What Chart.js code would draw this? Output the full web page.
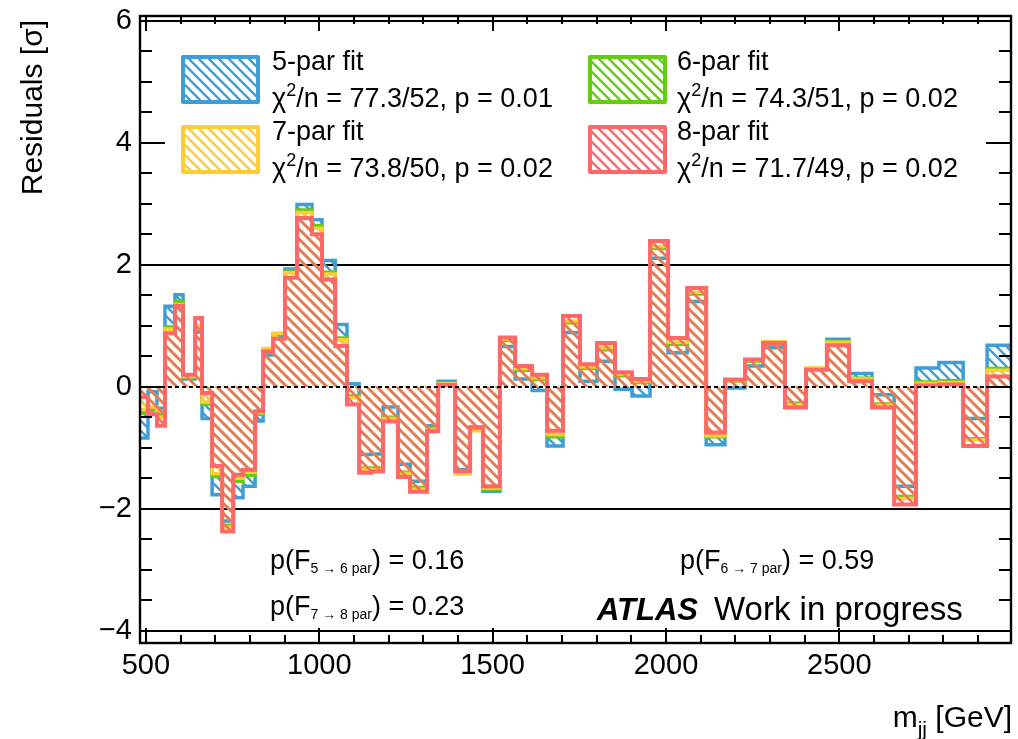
<!DOCTYPE html>
<html>
<head>
<meta charset="utf-8">
<script src="https://cdn.jsdelivr.net/npm/chart.js@4.4.1/dist/chart.umd.min.js"></script>
<style>
  html, body { margin: 0; padding: 0; background: #ffffff; }
  #wrap { width: 1018px; height: 739px; }
</style>
</head>
<body>
<div id="wrap"><canvas id="chart" width="1018" height="739"></canvas></div>
<script>
// m_jj bin edges [GeV]
const binEdges = [483, 506, 532, 555, 584, 607, 642, 662, 691, 720, 752, 780, 815, 838, 867, 901,
  936, 979, 1008, 1046, 1080, 1115, 1149, 1184, 1227, 1262, 1311, 1343, 1392, 1435, 1472, 1521,
  1565, 1614, 1657, 1703, 1752, 1801, 1853, 1902, 1954, 2006, 2061, 2116, 2170, 2228, 2280, 2343,
  2404, 2464, 2528, 2594, 2658, 2721, 2787, 2857, 2926, 2995];

// residuals per bin [sigma] for each fit function
const resid5par = [-0.84, -0.08, -0.35, 1.32, 1.51, 0.13, 0.90, -0.52, -1.77, -2.20, -1.82, -1.63, -0.56,
  0.52, 0.84, 1.93, 2.99, 2.74, 2.07, 1.02, 0.05, -1.11, -1.10, -0.33, -1.27, -1.55, -0.64, 0.09,
  -1.36, -0.66, -1.71, 0.66, 0.13, -0.06, -0.97, 0.89, 0.09, 0.42, -0.04, -0.15, 2.11, 0.56, 1.40,
  -0.95, -0.02, 0.34, 0.64, -0.27, 0.29, 0.78, 0.22, -0.13, -1.63, 0.31, 0.40, -0.52, 0.68];
const resid6par = [-0.43, -0.38, -0.45, 0.98, 1.40, 0.16, 0.97, -0.28, -1.47, -2.27, -1.55, -1.45, -0.45,
  0.60, 0.86, 1.90, 2.90, 2.64, 1.88, 0.80, -0.15, -1.33, -1.33, -0.50, -1.40, -1.65, -0.68, 0.06,
  -1.40, -0.70, -1.68, 0.76, 0.27, 0.12, -0.82, 1.05, 0.30, 0.61, 0.18, 0.07, 2.27, 0.70, 1.52,
  -0.82, 0.09, 0.42, 0.70, -0.28, 0.30, 0.74, 0.14, -0.28, -1.80, 0.08, 0.10, -0.85, 0.30];
const resid7par = [-0.37, -0.33, -0.50, 0.95, 1.35, 0.17, 1.00, -0.25, -1.42, -2.30, -1.50, -1.40, -0.42,
  0.63, 0.88, 1.87, 2.86, 2.60, 1.85, 0.77, -0.18, -1.35, -1.36, -0.52, -1.42, -1.68, -0.70, 0.05,
  -1.43, -0.72, -1.66, 0.78, 0.30, 0.15, -0.78, 1.08, 0.33, 0.64, 0.21, 0.09, 2.30, 0.73, 1.55,
  -0.80, 0.10, 0.43, 0.74, -0.29, 0.31, 0.73, 0.13, -0.30, -1.83, 0.06, 0.07, -0.87, 0.27];
const resid8par = [-0.17, -0.45, -0.64, 0.88, 1.33, 0.20, 1.13, -0.10, -1.30, -2.37, -1.44, -1.36, -0.40,
  0.58, 0.79, 1.79, 2.77, 2.50, 1.76, 0.67, -0.29, -1.41, -1.39, -0.57, -1.48, -1.72, -0.73, 0.03,
  -1.38, -0.67, -1.63, 0.81, 0.34, 0.20, -0.72, 1.16, 0.37, 0.72, 0.24, 0.13, 2.39, 0.80, 1.62,
  -0.75, 0.12, 0.45, 0.72, -0.34, 0.28, 0.68, 0.09, -0.34, -1.93, 0.02, 0.04, -0.97, 0.17];

// legend text
const fitNames = ['5-par fit', '6-par fit', '7-par fit', '8-par fit'];
const chi2Text = ['77.3/52', '74.3/51', '73.8/50', '71.7/49'];
const fitPText = ['0.01', '0.02', '0.02', '0.02'];

// F-test results between nested fit functions
const fTestFrom = [5, 6, 7];
const fTestTo = [6, 7, 8];
const fTestP = ['0.16', '0.59', '0.23'];

// axis ticks
const xMajorTicks = [500, 1000, 1500, 2000, 2500];
const yMajorTicks = [-4, -2, 0, 2, 4, 6];
const yRefLines = [6, 2, -2, -4];

const FONT = '"Liberation Sans", Arial, Helvetica, sans-serif';
const COLORS = ['#3d9fd6', '#66cc11', '#ffcc33', '#ff6868'];

function hatch(color) {
  const s = 10;
  const c = document.createElement('canvas');
  c.width = s; c.height = s;
  const g = c.getContext('2d');
  g.strokeStyle = color;
  g.lineWidth = 2.4;
  g.beginPath();
  g.moveTo(-s, -s); g.lineTo(2 * s, 2 * s);
  g.moveTo(-s, 0); g.lineTo(s, 2 * s);
  g.moveTo(0, -s); g.lineTo(2 * s, s);
  g.stroke();
  return g.createPattern(c, 'repeat');
}

function histPoints(vals) {
  const pts = [];
  vals.forEach((v, i) => {
    pts.push({ x: binEdges[i], y: v });
    pts.push({ x: binEdges[i + 1], y: v });
  });
  return pts;
}

const series = [resid5par, resid6par, resid7par, resid8par];
const patterns = COLORS.map(hatch);

const datasets = series.map((vals, i) => ({
  label: fitNames[i],
  data: histPoints(vals),
  borderColor: COLORS[i],
  borderWidth: i === 3 ? 4 : 3.5,
  backgroundColor: patterns[i],
  fill: 'origin',
  pointRadius: 0,
  tension: 0,
  borderJoinStyle: 'miter',
  order: 4 - i
}));

function drawRich(ctx, x, y, parts) {
  let cx = x;
  for (const p of parts) {
    ctx.font = `${p.style || 'normal'} ${p.weight || 'normal'} ${p.size}px ${FONT}`;
    ctx.fillText(p.t, cx, y + (p.dy || 0));
    cx += ctx.measureText(p.t).width;
  }
  return cx - x;
}

function richWidth(ctx, parts) {
  let w = 0;
  for (const p of parts) {
    ctx.font = `${p.style || 'normal'} ${p.weight || 'normal'} ${p.size}px ${FONT}`;
    w += ctx.measureText(p.t).width;
  }
  return w;
}

const decorations = {
  id: 'decorations',
  beforeDatasetsDraw(chart) {
    const { ctx, chartArea: a, scales: { y } } = chart;
    ctx.save();
    ctx.strokeStyle = '#000';
    ctx.lineWidth = 2.2;
    yRefLines.forEach(v => {
      const py = Math.round(y.getPixelForValue(v));
      ctx.beginPath();
      ctx.moveTo(a.left, py);
      ctx.lineTo(a.right, py);
      ctx.stroke();
    });
    ctx.restore();
  },
  afterDatasetsDraw(chart) {
    const { ctx, chartArea: a, scales: { x, y } } = chart;
    ctx.save();
    // dashed zero line
    const y0 = Math.round(y.getPixelForValue(0));
    ctx.strokeStyle = '#000';
    ctx.lineWidth = 1.8;
    ctx.setLineDash([4, 3]);
    ctx.beginPath();
    ctx.moveTo(a.left, y0);
    ctx.lineTo(a.right, y0);
    ctx.stroke();
    ctx.setLineDash([]);

    // frame
    ctx.lineWidth = 2.4;
    ctx.strokeRect(a.left, a.top, a.right - a.left, a.bottom - a.top);

    // y ticks (left and right)
    ctx.lineWidth = 2;
    for (let k = -8; k <= 12; k++) {
      const v = k * 0.5;
      const py = Math.round(y.getPixelForValue(v));
      const len = (k % 4 === 0) ? 25 : 12;
      ctx.beginPath();
      ctx.moveTo(a.left, py); ctx.lineTo(a.left + len, py);
      ctx.moveTo(a.right, py); ctx.lineTo(a.right - len, py);
      ctx.stroke();
    }
    // x ticks (bottom and top)
    for (let v = 500; v < x.max; v += 100) {
      const px = Math.round(x.getPixelForValue(v));
      const len = (v % 500 === 0) ? 15 : 8;
      ctx.beginPath();
      ctx.moveTo(px, a.bottom); ctx.lineTo(px, a.bottom - len);
      ctx.moveTo(px, a.top); ctx.lineTo(px, a.top + len);
      ctx.stroke();
    }

    // legend
    const boxX = [183, 590, 183, 590];
    const boxY = [57, 57, 127, 127];
    const txtX = [272, 677, 272, 677];
    for (let i = 0; i < 4; i++) {
      ctx.fillStyle = patterns[i];
      ctx.fillRect(boxX[i], boxY[i], 75, 45);
      ctx.strokeStyle = COLORS[i];
      ctx.lineWidth = 4;
      ctx.lineJoin = 'round';
      ctx.strokeRect(boxX[i], boxY[i], 75, 45);
      ctx.fillStyle = '#000';
      ctx.textBaseline = 'alphabetic';
      ctx.textAlign = 'left';
      drawRich(ctx, txtX[i], boxY[i] + 13, [{ t: fitNames[i], size: 27 }]);
      drawRich(ctx, txtX[i], boxY[i] + 50, [
        { t: '\u03c7', size: 27 },
        { t: '2', size: 18, dy: -11 },
        { t: '/n = ' + chi2Text[i] + ', p = ' + fitPText[i], size: 27 }
      ]);
    }

    // F-test p-values
    const fX = [270, 680, 270];
    const fY = [569, 569, 615];
    for (let i = 0; i < 3; i++) {
      drawRich(ctx, fX[i], fY[i], [
        { t: 'p(F', size: 27 },
        { t: fTestFrom[i] + ' \u2192 ' + fTestTo[i] + ' par', size: 14, dy: 4 },
        { t: ') = ' + fTestP[i], size: 27 }
      ]);
    }

    // ATLAS label
    drawRich(ctx, 597, 620, [
      { t: 'ATLAS', size: 31, weight: 'bold', style: 'italic' }
    ]);
    drawRich(ctx, 714, 620, [{ t: 'Work in progress', size: 33 }]);

    // axis titles
    ctx.save();
    ctx.translate(42, 20);
    ctx.rotate(-Math.PI / 2);
    ctx.textAlign = 'right';
    ctx.font = `30px ${FONT}`;
    ctx.fillText('Residuals [\u03c3]', 0, 0);
    ctx.restore();

    const xt = [
      { t: 'm', size: 30 },
      { t: 'jj', size: 21, dy: 9 },
      { t: ' [GeV]', size: 30 }
    ];
    const w = richWidth(ctx, xt);
    drawRich(ctx, 1012 - w, 727, xt);
    ctx.restore();
  }
};

new Chart(document.getElementById('chart'), {
  type: 'line',
  data: { datasets },
  options: {
    responsive: false,
    animation: false,
    devicePixelRatio: 1,
    layout: { padding: { top: 16, right: 7, left: 0, bottom: 0 } },
    plugins: { legend: { display: false }, tooltip: { enabled: false } },
    scales: {
      x: {
        type: 'linear',
        min: 483,
        max: 2995,
        grid: { display: false, drawTicks: false },
        border: { display: false },
        ticks: {
          autoSkip: false,
          maxRotation: 0,
          padding: 6,
          color: '#000',
          font: { family: FONT, size: 29 },
          callback: v => String(v)
        },
        afterBuildTicks(scale) { scale.ticks = xMajorTicks.map(v => ({ value: v })); },
        afterFit(scale) { scale.height = 96; scale.paddingLeft = 0; scale.paddingRight = 0; }
      },
      y: {
        type: 'linear',
        min: -4.2,
        max: 6.08,
        grid: { display: false, drawTicks: false },
        border: { display: false },
        ticks: {
          padding: 8,
          color: '#000',
          font: { family: FONT, size: 29 },
          callback: v => String(v).replace('-', '\u2212')
        },
        afterBuildTicks(scale) { scale.ticks = yMajorTicks.map(v => ({ value: v })); },
        afterFit(scale) { scale.width = 140; scale.paddingTop = 0; scale.paddingBottom = 0; }
      }
    }
  },
  plugins: [decorations]
});
</script>
</body>
</html>
